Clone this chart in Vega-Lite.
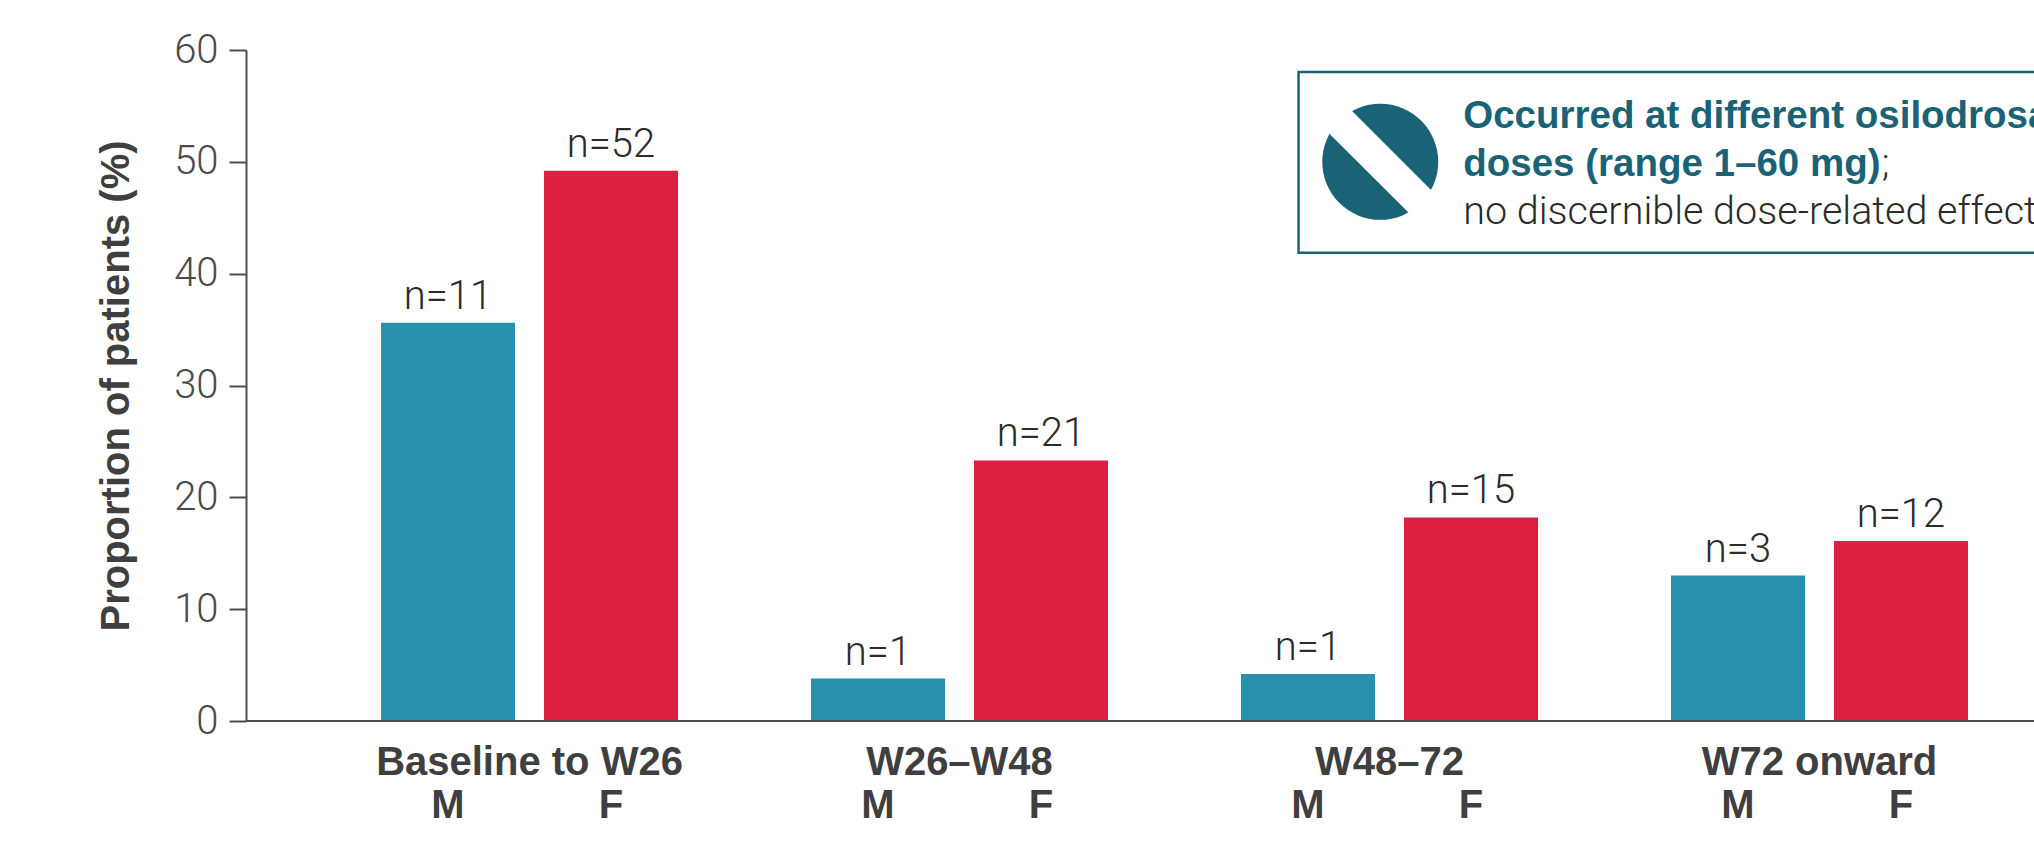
{
  "$schema": "https://vega.github.io/schema/vega-lite/v6.json",
  "width": 1788,
  "height": 671,
  "autosize": {"type": "none"},
  "padding": {"left": 246, "top": 50, "right": 0, "bottom": 122},
  "background": "#ffffff",
  "config": {"view": {"stroke": null}},
  "layer": [
    {
      "data": {
        "values": [
          {"period": "Baseline to W26", "sex": "M", "pct": 35.6, "label": "n=11"},
          {"period": "Baseline to W26", "sex": "F", "pct": 49.2, "label": "n=52"},
          {"period": "W26–W48", "sex": "M", "pct": 3.8, "label": "n=1"},
          {"period": "W26–W48", "sex": "F", "pct": 23.3, "label": "n=21"},
          {"period": "W48–72", "sex": "M", "pct": 4.2, "label": "n=1"},
          {"period": "W48–72", "sex": "F", "pct": 18.2, "label": "n=15"},
          {"period": "W72 onward", "sex": "M", "pct": 13.0, "label": "n=3"},
          {"period": "W72 onward", "sex": "F", "pct": 16.1, "label": "n=12"}
        ]
      },
      "encoding": {
        "x": {
          "field": "period",
          "type": "nominal",
          "sort": null,
          "scale": {
            "domain": ["Baseline to W26", "W26–W48", "W48–72", "W72 onward"],
            "range": [68.5, 1788.5],
            "paddingInner": 0,
            "paddingOuter": 0
          },
          "axis": {
            "title": null,
            "domain": false,
            "ticks": false,
            "labelAngle": 0,
            "labelLimit": 0,
            "labelFont": "Liberation Sans",
            "labelFontWeight": "bold",
            "labelFontSize": 40,
            "labelColor": "#3f3f3f",
            "labelBaseline": "middle",
            "labelPadding": 41
          }
        },
        "xOffset": {
          "field": "sex",
          "type": "nominal",
          "scale": {
            "domain": ["M", "F"],
            "paddingInner": 0.178,
            "paddingOuter": 0.408
          }
        }
      },
      "layer": [
        {
          "mark": {"type": "bar"},
          "encoding": {
            "y": {
              "field": "pct",
              "type": "quantitative",
              "scale": {"domain": [0, 60], "nice": false},
              "axis": {
                "title": "Proportion of patients (%)",
                "titleFont": "Liberation Sans",
                "titleFontWeight": "bold",
                "titleFontSize": 40,
                "titleColor": "#3f3f3f",
                "titlePadding": 37,
                "values": [0, 10, 20, 30, 40, 50, 60],
                "grid": false,
                "domainColor": "#4d4d4d",
                "domainWidth": 2,
                "tickColor": "#4d4d4d",
                "tickWidth": 2,
                "tickSize": 17,
                "labelFont": "Roboto",
                "labelFontWeight": 300,
                "labelFontSize": 40,
                "labelColor": "#4a4a4a",
                "labelPadding": 11
              }
            },
            "color": {
              "field": "sex",
              "type": "nominal",
              "scale": {"domain": ["M", "F"], "range": ["#2990ae", "#dd2042"]},
              "legend": null
            }
          }
        },
        {
          "mark": {
            "type": "text",
            "font": "Roboto",
            "fontWeight": 300,
            "fontSize": 40,
            "color": "#2b2b2b",
            "baseline": "alphabetic",
            "dy": -14
          },
          "encoding": {
            "y": {"field": "pct", "type": "quantitative"},
            "text": {"field": "label"}
          }
        },
        {
          "mark": {
            "type": "text",
            "font": "Liberation Sans",
            "fontWeight": "bold",
            "fontSize": 40,
            "color": "#3f3f3f",
            "baseline": "middle",
            "dy": 85
          },
          "encoding": {
            "y": {"datum": 0},
            "text": {"field": "sex"}
          }
        },
        {
          "mark": {"type": "rule", "color": "#4d4d4d", "strokeWidth": 2},
          "encoding": {"y": {"datum": 0}, "xOffset": {"value": 0}, "x": {"value": 0}, "x2": {"value": 1788}}
        }
      ]
    },
    {
      "encoding": {
        "x": {
          "type": "quantitative",
          "scale": {"domain": [0, 4], "range": [68.5, 1788.5], "nice": false, "zero": false},
          "axis": null
        },
        "y": {"type": "quantitative"}
      },
      "layer": [
        {
          "data": {"values": [{"slotStart": 2.2885, "slotEnd": 4.5, "top": 58.03, "bottom": 41.87}]},
          "mark": {"type": "rect", "fill": "#ffffff", "stroke": "#1a6276", "strokeWidth": 2.5},
          "encoding": {
            "x": {"field": "slotStart", "type": "quantitative"},
            "x2": {"field": "slotEnd"},
            "y": {"field": "top", "type": "quantitative"},
            "y2": {"field": "bottom"}
          }
        },
        {
          "data": {"values": [{"slot": 2.4785, "level": 50.0}]},
          "mark": {"type": "point", "shape": "circle", "filled": true, "opacity": 1, "color": "#1a6276", "size": 13456},
          "encoding": {
            "x": {"field": "slot", "type": "quantitative"},
            "y": {"field": "level", "type": "quantitative"}
          }
        },
        {
          "data": {"values": [{"slotStart": 2.3738, "slotEnd": 2.5832, "high": 54.02, "low": 45.98}]},
          "mark": {"type": "rule", "color": "#ffffff", "strokeWidth": 32},
          "encoding": {
            "x": {"field": "slotStart", "type": "quantitative"},
            "x2": {"field": "slotEnd"},
            "y": {"field": "high", "type": "quantitative"},
            "y2": {"field": "low"}
          }
        },
        {
          "data": {
            "values": [
              {"slot": 2.6715, "level": 53.0, "line": "Occurred at different osilodrosa"},
              {"slot": 2.6715, "level": 48.7, "line": "doses (range 1–60 mg)"}
            ]
          },
          "mark": {"type": "text", "font": "Liberation Sans", "fontWeight": "bold", "fontSize": 38.5, "color": "#1a6276", "align": "left", "baseline": "alphabetic"},
          "encoding": {
            "x": {"field": "slot", "type": "quantitative"},
            "y": {"field": "level", "type": "quantitative"},
            "text": {"field": "line"}
          }
        },
        {
          "data": {
            "values": [
              {"slot": 3.645, "level": 48.7, "line": ";"},
              {"slot": 2.6715, "level": 44.4, "line": "no discernible dose-related effect"}
            ]
          },
          "mark": {"type": "text", "font": "Roboto", "fontWeight": 300, "fontSize": 39.5, "color": "#2b2b2b", "align": "left", "baseline": "alphabetic"},
          "encoding": {
            "x": {"field": "slot", "type": "quantitative"},
            "y": {"field": "level", "type": "quantitative"},
            "text": {"field": "line"}
          }
        }
      ]
    }
  ],
  "resolve": {"scale": {"x": "independent"}}
}
